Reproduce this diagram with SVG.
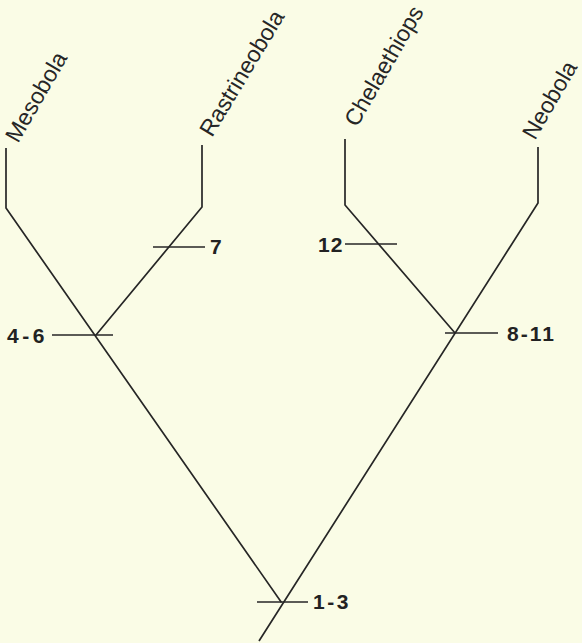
<svg xmlns="http://www.w3.org/2000/svg" width="582" height="643" viewBox="0 0 582 643">
<style>
.ln{fill:none;stroke:#262626;stroke-width:1.7;stroke-linejoin:miter}
.tk{stroke:#262626;stroke-width:1.7}
.tx{font-family:"Liberation Sans",Arial,sans-serif;font-size:23px;fill:#262626}
.nm{font-family:"Liberation Sans",Arial,sans-serif;font-size:21px;font-weight:bold;fill:#222}
</style>
<rect width="582" height="643" fill="#fafce6"/>
<g id="connectors">
<polyline class="ln" points="6,148 6,208 281.5,602.5"/>
<polyline class="ln" points="202,145 202,207 96,335"/>
<polyline class="ln" points="345,139 345,205 455,333"/>
<polyline class="ln" points="538,147 538,203 259,641"/>
</g>
<g id="taxon-mesobola"><text class="tx" transform="translate(18,144) rotate(-60)">Mesobola</text></g>
<g id="taxon-rastrineobola"><text class="tx" transform="translate(212,138) rotate(-59)">Rastrineobola</text></g>
<g id="taxon-chelaethiops"><text class="tx" transform="translate(357,128) rotate(-60)">Chelaethiops</text></g>
<g id="taxon-neobola"><text class="tx" transform="translate(535,141) rotate(-60)">Neobola</text></g>
<g id="char-7"><line class="tk" x1="153" y1="247" x2="205" y2="247"/><text class="nm" x="210" y="254">7</text></g>
<g id="char-12"><line class="tk" x1="345" y1="244" x2="397" y2="244"/><text class="nm" x="318" y="252" letter-spacing="1">12</text></g>
<g id="char-4-6"><line class="tk" x1="52" y1="335" x2="113" y2="335"/><text class="nm" x="7" y="343" letter-spacing="3.5">4-6</text></g>
<g id="char-8-11"><line class="tk" x1="445" y1="333" x2="498" y2="333"/><text class="nm" x="507" y="341" letter-spacing="2">8-11</text></g>
<g id="char-1-3"><line class="tk" x1="257" y1="602" x2="308" y2="602"/><text class="nm" x="313" y="609" letter-spacing="2.5">1-3</text></g>
</svg>
